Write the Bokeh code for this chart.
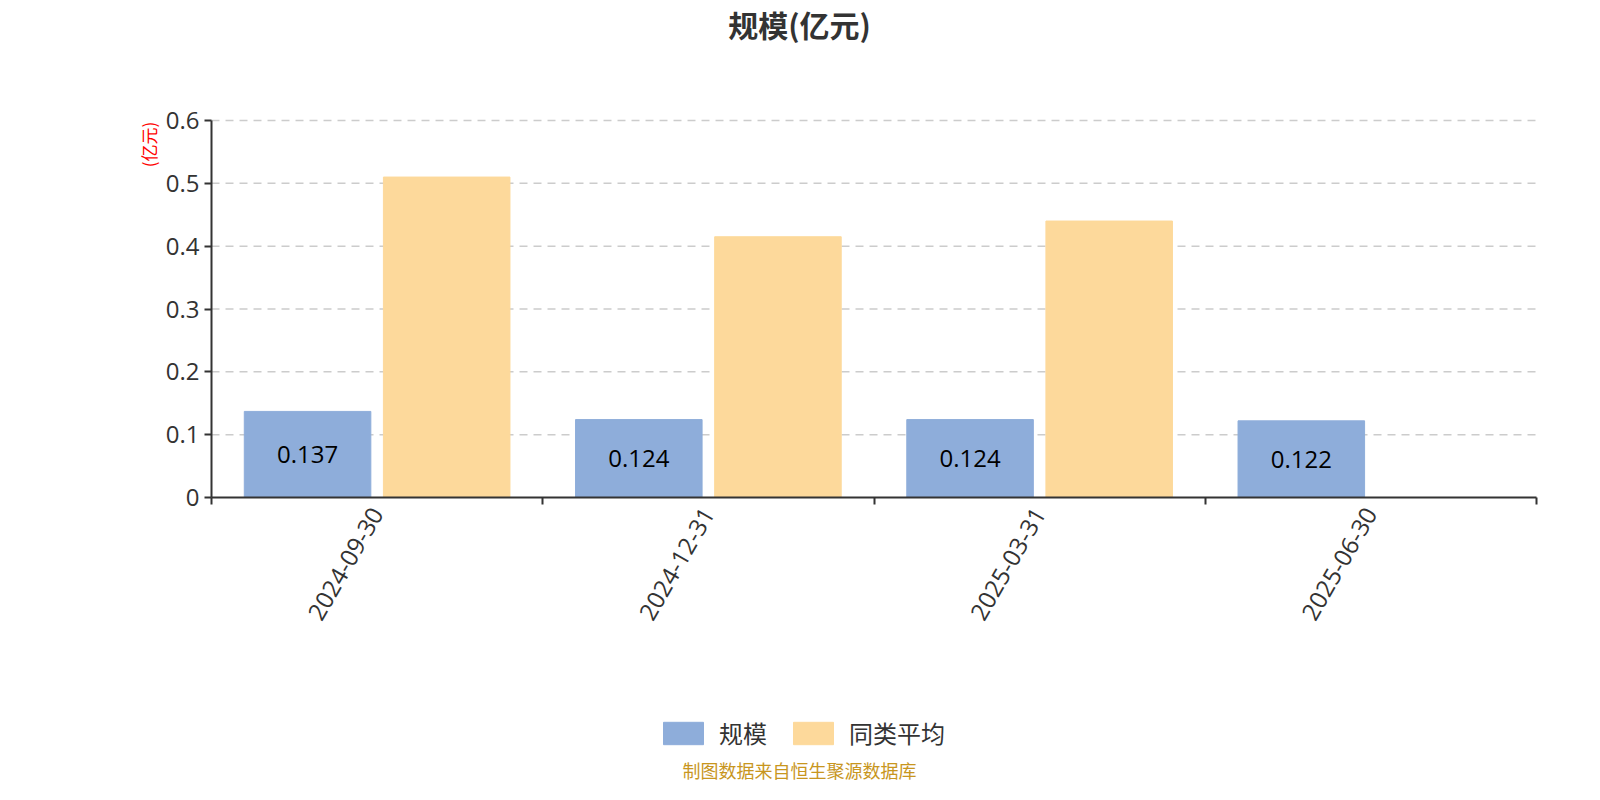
import math

import numpy as np
from bokeh.core.properties import value
from bokeh.embed import file_html
from bokeh.models import ColumnDataSource, FixedTicker, Label, Legend, LegendItem, Range1d
from bokeh.plotting import figure
from bokeh.resources import INLINE

# Data
dates = ["2024-09-30", "2024-12-31", "2025-03-31", "2025-06-30"]
scale = [0.137, 0.124, 0.124, 0.122]
peer_avg = [0.51, 0.415, 0.44, np.nan]
y_ticks = [0, 0.1, 0.2, 0.3, 0.4, 0.5, 0.6]

CJK = "Noto Sans CJK SC"
NUM = "Open Sans"
BLUE = "#8EADDA"
ORANGE = "#FDD99B"

# canvas and plotting area (pixels); the frame covers the whole canvas and
# the axes are pinned at the data origin so that the texts around fit inside
W, H = 1584, 784
L, R, T, B = 211, 1536, 120, 497
n = len(dates)
ymax = y_ticks[-1]
px_x = (R - L) / n
px_y = (B - T) / ymax

idx = np.arange(n)
src = ColumnDataSource(dict(
    x1=idx + 0.5 - 0.21,
    x2=idx + 0.5 + 0.21,
    scale=scale,
    half=[v / 2 for v in scale],
    txt=[f"{v:.3f}" for v in scale],
    avg=peer_avg,
))

p = figure(
    width=W, height=H,
    x_range=Range1d(-L / px_x, (W - L) / px_x),
    y_range=Range1d(-(H - B) / px_y, B / px_y),
    output_backend="svg", toolbar_location=None, tools="",
    min_border=0,
)
p.outline_line_color = None
p.xgrid.visible = False
p.ygrid.visible = False

# dashed grid lines at the y ticks
grid_y = y_ticks[1:]
p.segment(x0=[0] * len(grid_y), x1=[n] * len(grid_y), y0=grid_y, y1=grid_y,
          line_color="#CCCCCC", line_width=1.5, line_dash="8 6")

r1 = p.vbar(x="x1", top="scale", bottom=0, width=0.382, source=src,
            fill_color=BLUE, line_color=BLUE)
r2 = p.vbar(x="x2", top="avg", bottom=0, width=0.382, source=src,
            fill_color=ORANGE, line_color=ORANGE)

p.text(x="x1", y="half", text="txt", source=src, text_align="center",
       text_baseline="middle", text_font=value(NUM), text_font_size="24px",
       text_color="#000000")

# axes
p.xaxis.fixed_location = 0
p.xaxis.bounds = (0, n)
p.xaxis.ticker = FixedTicker(ticks=list(idx + 0.5), minor_ticks=list(range(n + 1)))
p.xaxis.major_label_overrides = {float(i + 0.5): d for i, d in enumerate(dates)}
p.xaxis.major_label_orientation = math.pi / 3
p.xaxis.major_tick_line_color = None
p.xaxis.minor_tick_line_color = "#333333"
p.xaxis.minor_tick_line_width = 2
p.xaxis.minor_tick_out = 7
p.xaxis.minor_tick_in = 0
p.xaxis.axis_line_color = "#333333"
p.xaxis.axis_line_width = 2
p.xaxis.major_label_text_font = NUM
p.xaxis.major_label_text_font_size = "24px"
p.xaxis.major_label_text_color = "#333333"
p.xaxis.major_label_standoff = 5

p.yaxis.fixed_location = 0
p.yaxis.bounds = (0, ymax)
p.yaxis.ticker = FixedTicker(ticks=y_ticks)
p.yaxis.major_label_overrides = {0: "0"}
p.yaxis.minor_tick_line_color = None
p.yaxis.major_tick_line_color = "#333333"
p.yaxis.major_tick_line_width = 2
p.yaxis.major_tick_out = 7
p.yaxis.major_tick_in = 0
p.yaxis.axis_line_color = "#333333"
p.yaxis.axis_line_width = 2
p.yaxis.major_label_text_font = NUM
p.yaxis.major_label_text_font_size = "24px"
p.yaxis.major_label_text_color = "#333333"
p.yaxis.major_label_standoff = 5

# title, unit label, footer (screen units, measured from the bottom)
p.add_layout(Label(x=799, y=H - 23, x_units="screen", y_units="screen",
                   text="规模(亿元)", text_align="center", text_baseline="middle",
                   text_font=CJK, text_font_size="30px", text_font_style="bold",
                   text_color="#333333"))
p.add_layout(Label(x=148, y=H - 144, x_units="screen", y_units="screen",
                   text="(亿元)", angle=math.pi / 2, text_align="center",
                   text_baseline="middle", text_font=CJK, text_font_size="17px",
                   text_color="#FF0000"))
p.add_layout(Label(x=799, y=H - 769, x_units="screen", y_units="screen",
                   text="制图数据来自恒生聚源数据库", text_align="center",
                   text_baseline="middle", text_font=CJK, text_font_size="18px",
                   text_color="#C8961E"))

legend = Legend(
    items=[LegendItem(label="规模", renderers=[r1]), LegendItem(label="同类平均", renderers=[r2])],
    location=(658, 34), orientation="horizontal",
    glyph_width=50, glyph_height=28, label_standoff=11, spacing=21,
    label_text_font=CJK, label_text_font_size="24px", label_text_color="#333333",
    padding=0, margin=0, border_line_color=None, background_fill_alpha=0,
)
p.add_layout(legend)

open("out.html", "w").write(file_html(p, INLINE))
